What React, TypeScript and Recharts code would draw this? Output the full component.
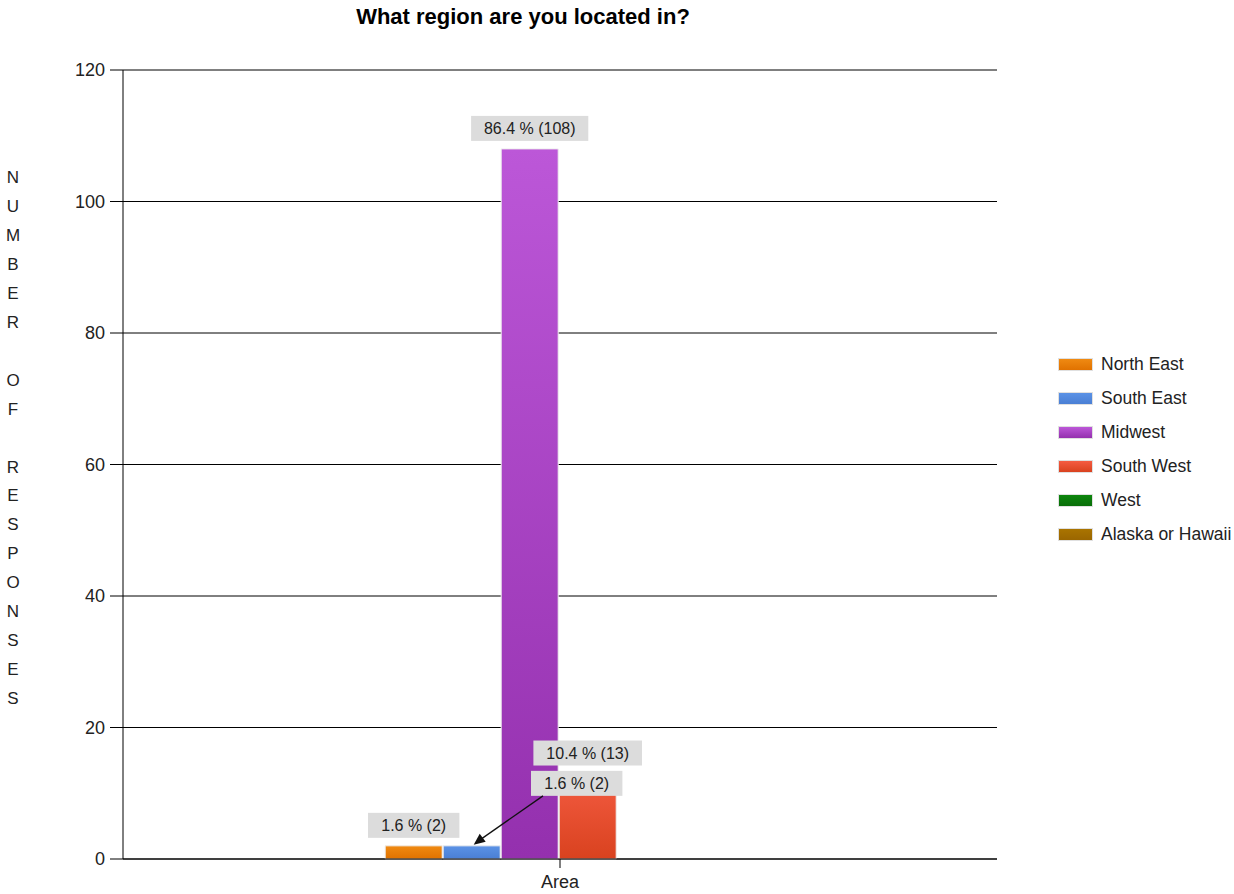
import React from 'react';
import { BarChart, Bar, XAxis, YAxis, CartesianGrid, Legend, LabelList } from 'recharts';

const categories = ['Area'];
const seriesNames = ['North East', 'South East', 'Midwest', 'South West', 'West', 'Alaska or Hawaii'];
const seriesKeys = ['ne', 'se', 'mw', 'sw', 'w', 'ak'];
const seriesValues = [2, 2, 108, 13, 0, 0];
const gradTop = ['#f08a12', '#5b92e6', '#bc57d8', '#f45c42', '#0d860d', '#aa7400'];
const gradBottom = ['#e07200', '#4a7fd4', '#9430ae', '#d9421f', '#096e09', '#9a6600'];
const yTicks = [0, 20, 40, 60, 80, 100, 120];
const yLabel = 'NUMBER OF RESPONSES';
const title = 'What region are you located in?';

const total = seriesValues.reduce((a, b) => a + b, 0);
const data = categories.map((c) => {
  const row: any = { name: c };
  seriesKeys.forEach((k, i) => (row[k] = seriesValues[i]));
  return row;
});

const FONT = '"Liberation Sans", Arial, sans-serif';

const fmt = (v: number) => `${((v / total) * 100).toFixed(1)} % (${v})`;

const makeLabel = (moved: boolean) => (props: any) => {
  const { x, y, width, value } = props;
  if (!value) return null;
  const text = fmt(value);
  const w = text.length * 8.6 + 14;
  const h = 25;
  const cx = moved ? x + width / 2 + 105 : x + width / 2;
  const bottom = moved ? y - 50 : y - 8;
  return (
    <g>
      <rect x={cx - w / 2} y={bottom - h} width={w} height={h} fill="#dcdcdc" />
      <text x={cx} y={bottom - h / 2 + 5.5} textAnchor="middle" fontSize={16} fontFamily={FONT} fill="#222">
        {text}
      </text>
      {moved && (
        <g>
          <line x1={cx - w / 2 + 12} y1={bottom} x2={x + width / 2 + 4} y2={y - 3} stroke="#111" strokeWidth={1.3} />
          <polygon
            points={`${x + width / 2 + 2},${y - 1} ${x + width / 2 + 14},${y - 4} ${x + width / 2 + 8},${y - 12}`}
            fill="#111"
          />
        </g>
      )}
    </g>
  );
};

const LegendContent = () => (
  <div style={{ paddingLeft: 61, fontFamily: FONT }}>
    {seriesNames.map((n, i) => (
      <div key={n} style={{ display: 'flex', alignItems: 'center', height: 34, whiteSpace: 'nowrap' }}>
        <div
          style={{
            flex: '0 0 auto',
            width: 33,
            height: 11,
            background: `linear-gradient(${gradTop[i]}, ${gradBottom[i]})`,
            border: '1px solid #e0e0e0',
            marginRight: 8,
          }}
        />
        <span style={{ flex: '0 0 auto', fontSize: 17.5, color: '#222', whiteSpace: 'nowrap' }}>{n}</span>
      </div>
    ))}
  </div>
);

const YLabel = () => (
  <text x={13} y={183} textAnchor="middle" fontSize={17} fontFamily={FONT} fill="#222">
    {yLabel.split('').map((ch, i) => (
      <tspan key={i} x={13} y={183 + i * 28.95} textAnchor="middle">
        {ch === ' ' ? '\u00a0' : ch}
      </tspan>
    ))}
  </text>
);

export default function App() {
  return (
    <div style={{ position: 'absolute', left: 0, top: 0, width: 1234, height: 894, background: '#fff', overflow: 'hidden' }}>
      <div
        style={{
          position: 'absolute',
          left: 0,
          top: 4,
          width: 1046,
          textAlign: 'center',
          fontFamily: FONT,
          fontWeight: 'bold',
          fontSize: 22,
          lineHeight: '26px',
          color: '#000',
        }}
      >
        {title}
      </div>
      <BarChart
        width={1234}
        height={894}
        data={data}
        margin={{ top: 70, right: 57, left: 0, bottom: 0 }}
        barCategoryGap="30%"
        barGap={1}
      >
        <defs>
          {seriesKeys.map((k, i) => (
            <linearGradient key={k} id={`g-${k}`} x1="0" y1="0" x2="0" y2="1">
              <stop offset="0%" stopColor={gradTop[i]} />
              <stop offset="100%" stopColor={gradBottom[i]} />
            </linearGradient>
          ))}
        </defs>
        <CartesianGrid vertical={false} stroke="#000" strokeWidth={1} />
        <XAxis
          xAxisId="edge"
          type="number"
          domain={[0, 1]}
          ticks={[0, 1]}
          height={0}
          axisLine={false}
          tickSize={9}
          tickLine={{ stroke: '#000' }}
          tick={() => null}
        />
        <XAxis
          dataKey="name"
          height={35}
          axisLine={{ stroke: '#000' }}
          tickLine={{ stroke: '#000' }}
          tickSize={9}
          tickMargin={7}
          tick={{ fontSize: 18, fill: '#222', fontFamily: FONT }}
        />
        <YAxis
          width={123}
          domain={[0, 120]}
          ticks={yTicks}
          interval={0}
          axisLine={{ stroke: '#000' }}
          tickLine={{ stroke: '#000' }}
          tickSize={13}
          tickMargin={5}
          tick={{ fontSize: 18, fill: '#222', fontFamily: FONT }}
          label={<YLabel />}
        />
        <Legend
          layout="vertical"
          align="right"
          verticalAlign="middle"
          content={<LegendContent />}
          wrapperStyle={{ width: 180, top: 347 }}
        />
        {seriesKeys.map((k, i) => (
          <Bar
            key={k}
            dataKey={k}
            name={seriesNames[i]}
            fill={`url(#g-${k})`}
            stroke="#eeeeee"
            strokeWidth={1}
            isAnimationActive={false}
          >
            <LabelList dataKey={k} content={makeLabel(k === 'se')} />
          </Bar>
        ))}
      </BarChart>
    </div>
  );
}
